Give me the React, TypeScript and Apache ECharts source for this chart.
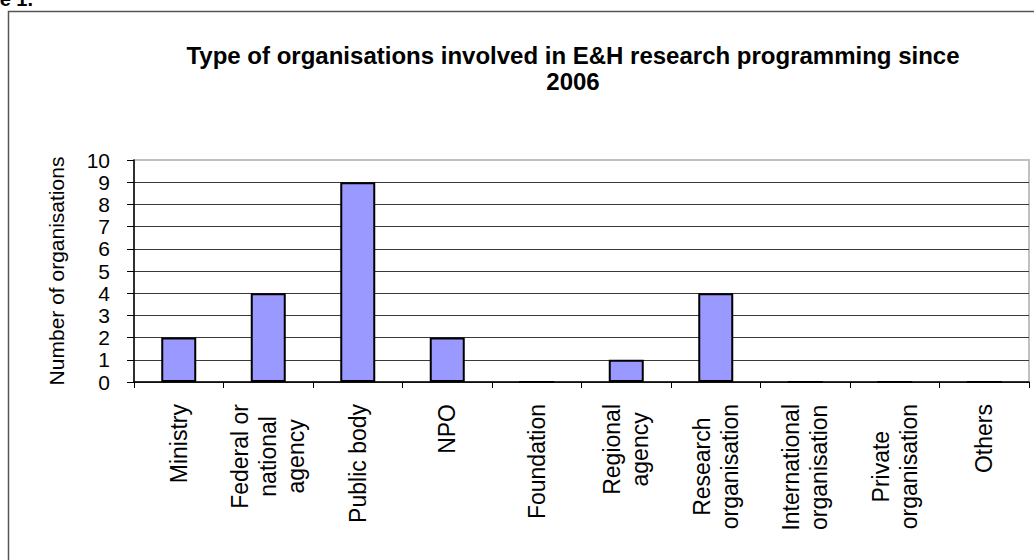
import React, { useEffect, useRef } from "react";
import * as echarts from "echarts";

const FONT = "'Liberation Sans', Arial, sans-serif";

const titleText = "Type of organisations involved in E&H research programming since\n2006";
const yAxisName = "Number of organisations";
const categories = [
  "Ministry",
  "Federal or\nnational\nagency",
  "Public body",
  "NPO",
  "Foundation",
  "Regional\nagency",
  "Research\norganisation",
  "International\norganisation",
  "Private\norganisation",
  "Others",
];
const values = [2, 4, 9, 2, 0, 1, 4, 0, 0, 0];
const yTicks = [0, 1, 2, 3, 4, 5, 6, 7, 8, 9, 10];

export default function App() {
  const ref = useRef<HTMLDivElement>(null);
  useEffect(() => {
    if (!ref.current) return;
    const chart = echarts.init(ref.current, null, { renderer: "svg" });
    const splitColors = yTicks.map((t, i) => (i === yTicks.length - 1 ? "#c0c0c0" : "#3a3a3a"));
    chart.setOption({
      animation: false,
      backgroundColor: "#ffffff",
      title: {
        text: titleText,
        left: 568,
        top: 37,
        textAlign: "center",
        textStyle: {
          fontFamily: FONT,
          fontSize: 24,
          fontWeight: "bold",
          color: "#000",
          lineHeight: 26,
        },
      },
      graphic: [
        {
          type: "rect",
          shape: { x: 8.5, y: 11.5, width: 1200, height: 700 },
          style: { fill: "none", stroke: "#555", lineWidth: 1.5 },
          silent: true,
          z: 0,
        },
        {
          type: "text",
          x: 33,
          y: 9,
          style: {
            text: "e 1.",
            fontFamily: FONT,
            fontSize: 20,
            fontWeight: "bold",
            fill: "#000",
            align: "right",
            verticalAlign: "bottom",
          },
          silent: true,
        },
      ],
      grid: {
        left: 134,
        right: 5,
        top: 160,
        bottom: 178,
        show: true,
        borderColor: "#c0c0c0",
        borderWidth: 2,
        backgroundColor: "transparent",
      },
      xAxis: {
        type: "category",
        data: categories,
        axisLine: { show: true, lineStyle: { color: "#000", width: 1.5 } },
        axisTick: { show: true, length: 6, lineStyle: { color: "#000", width: 1 } },
        splitLine: { show: false },
        axisLabel: {
          interval: 0,
          rotate: 90,
          margin: 22,
          formatter: (v: string) =>
            v
              .split("\n")
              .map((l) => `{c|${l}}`)
              .join("\n"),
          rich: {
            c: {
              align: "center",
              fontFamily: FONT,
              fontSize: 23,
              color: "#000",
              lineHeight: 28,
            },
          },
        },
      },
      yAxis: {
        type: "value",
        min: 0,
        max: 10,
        interval: 1,
        name: yAxisName,
        nameLocation: "middle",
        nameGap: 67,
        nameTextStyle: { fontFamily: FONT, fontSize: 21, color: "#000" },
        axisLine: { show: true, lineStyle: { color: "#000", width: 1.5 } },
        axisTick: { show: true, length: 7, lineStyle: { color: "#000", width: 1 } },
        axisLabel: {
          margin: 24,
          fontFamily: FONT,
          fontSize: 21,
          lineHeight: 21,
          color: "#000",
        },
        splitLine: { show: true, lineStyle: { color: splitColors, width: 1 } },
      },
      series: [
        {
          type: "bar",
          data: values,
          barWidth: 35,
          itemStyle: { color: "#9999ff", borderColor: "#000", borderWidth: 2 },
        },
      ],
    });
    return () => chart.dispose();
  }, []);
  return (
    <div
      ref={ref}
      style={{ position: "fixed", left: 0, top: 0, width: 1034, height: 560 }}
    />
  );
}
